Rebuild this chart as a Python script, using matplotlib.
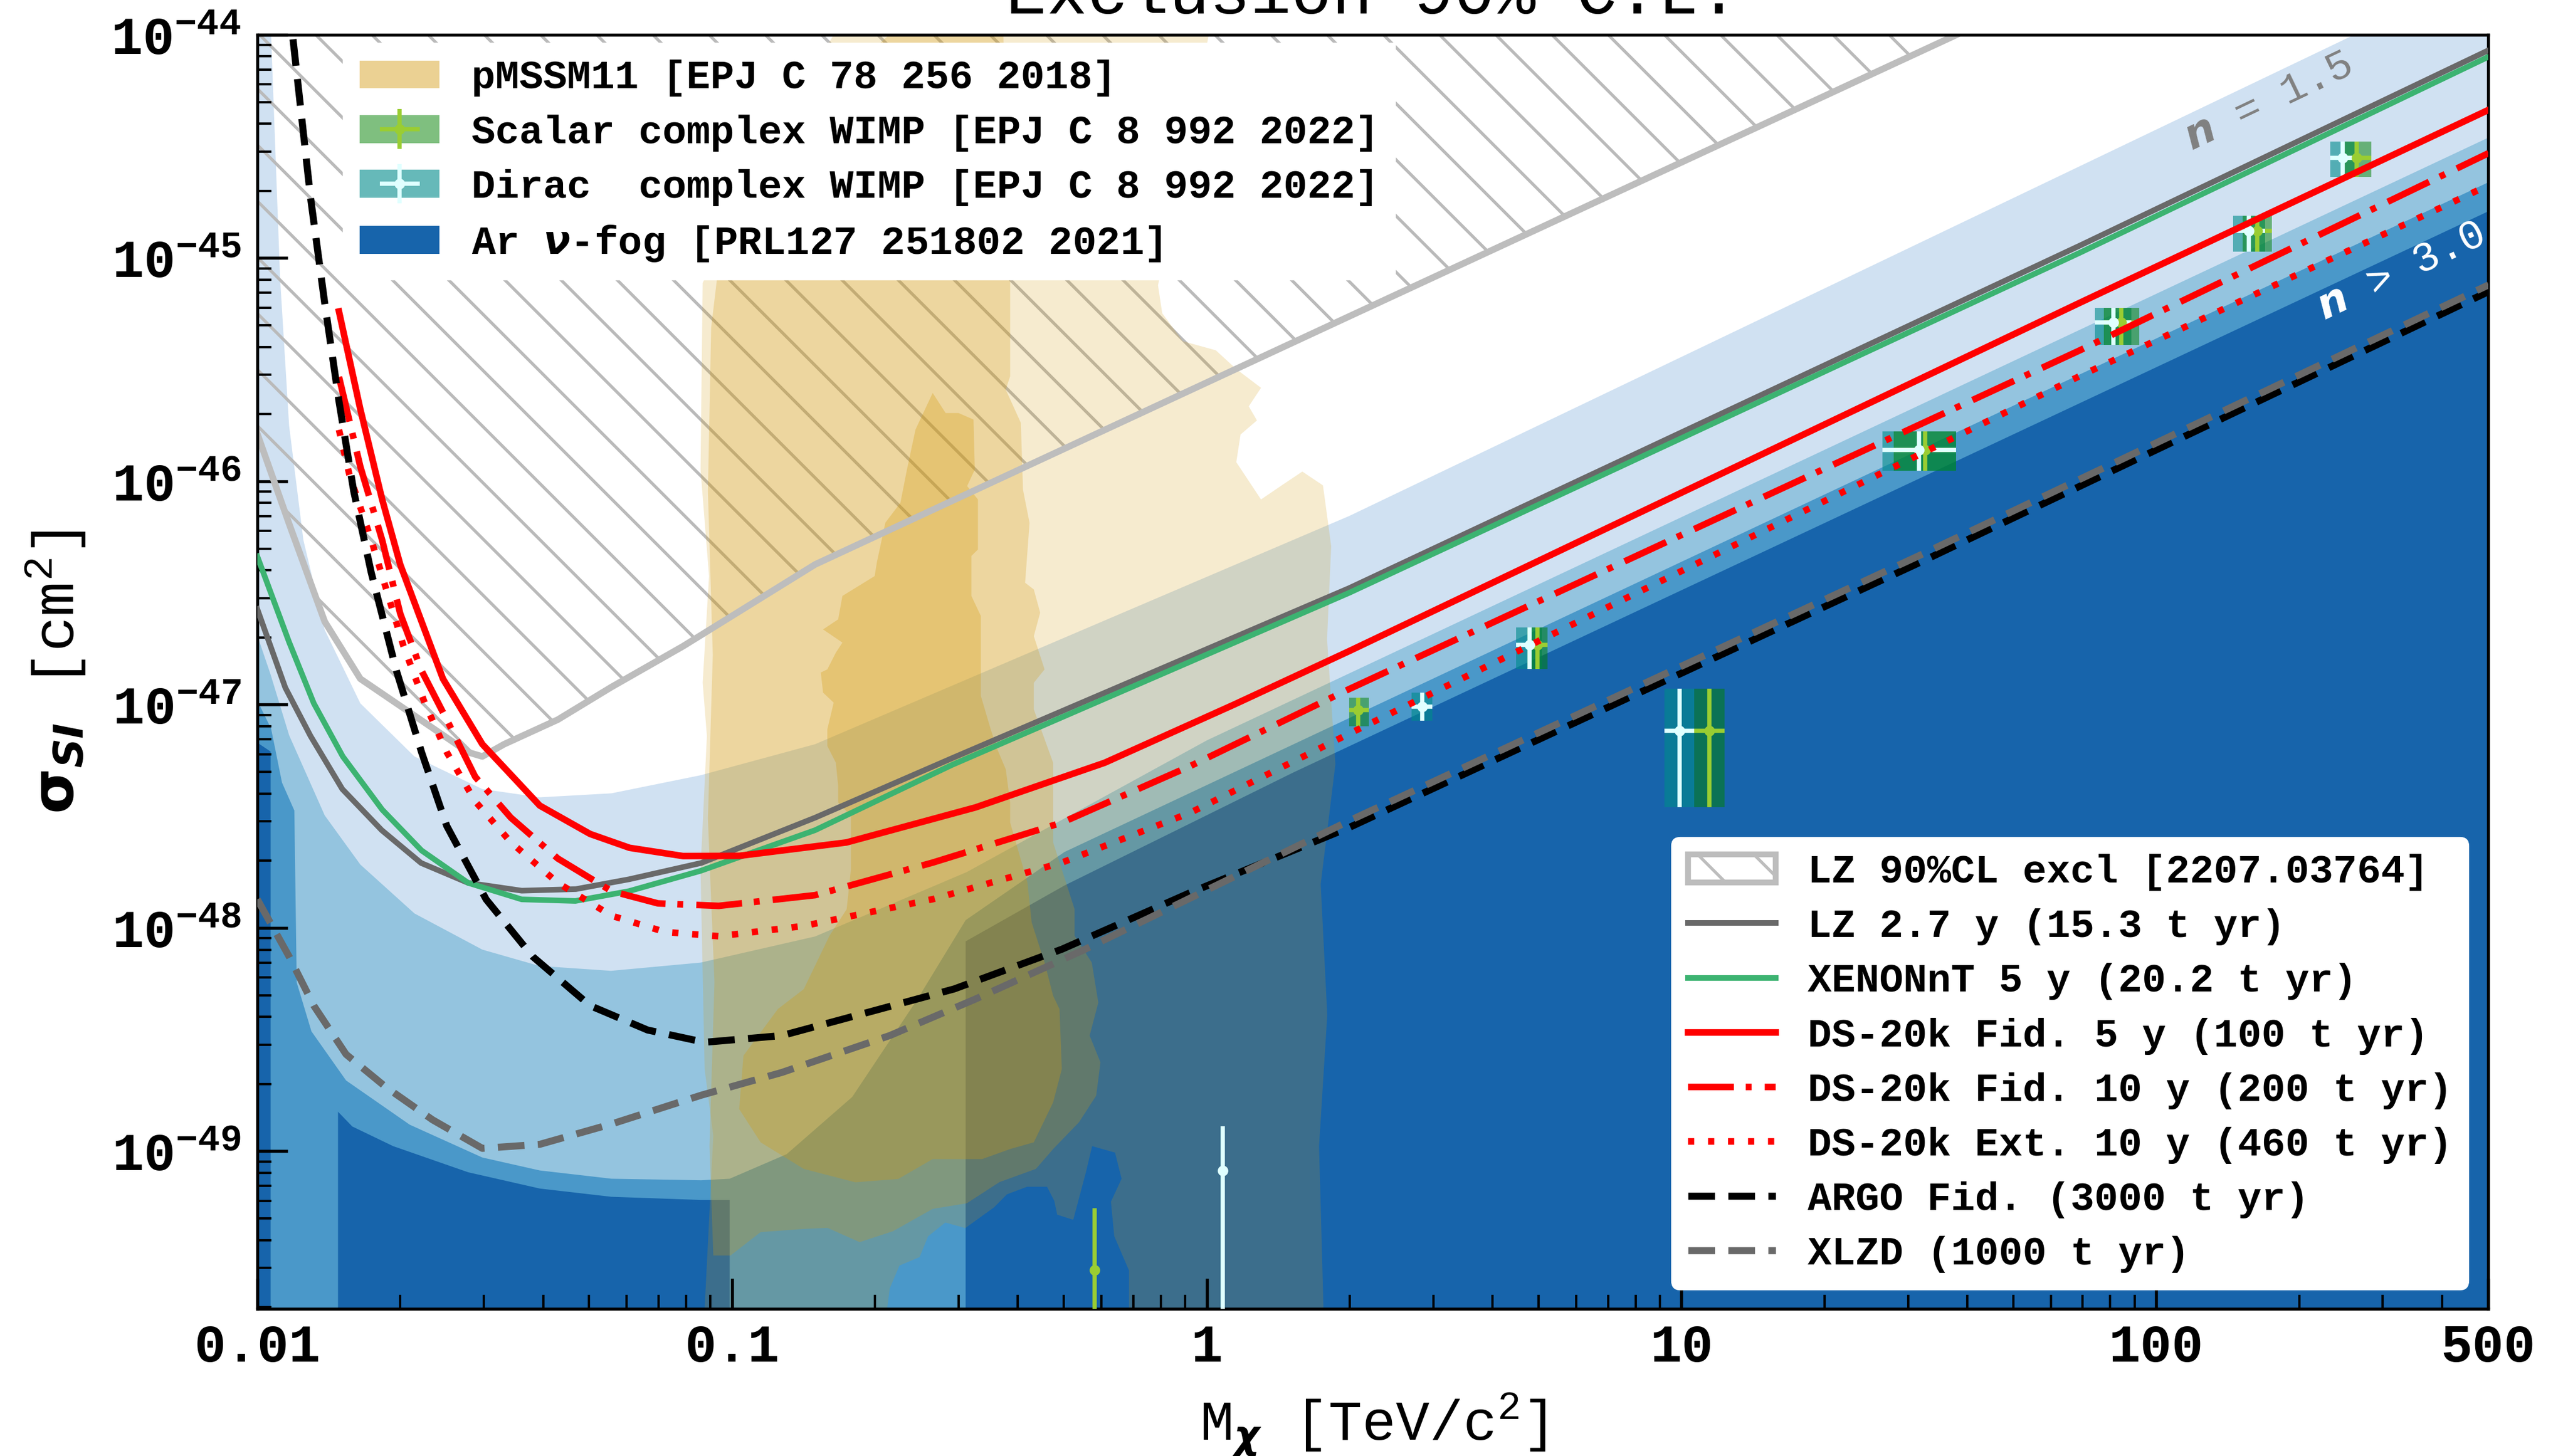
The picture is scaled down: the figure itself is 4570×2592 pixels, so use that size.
import numpy as np
import matplotlib
matplotlib.use("Agg")
import matplotlib.pyplot as plt
from matplotlib.patches import Patch
from matplotlib.legend_handler import HandlerTuple
from matplotlib.ticker import LogLocator

plt.rcParams["font.family"] = ["Liberation Mono", "DejaVu Sans"]
plt.rcParams["font.weight"] = "bold"
plt.rcParams["mathtext.default"] = "regular"
plt.rcParams["axes.unicode_minus"] = False
plt.rcParams["hatch.color"] = "#bababa"
plt.rcParams["hatch.linewidth"] = 1.3

# all curves are given as log10(M / TeV) and log10(sigma / cm^2)

# LZ 2.7 y
lz_lm = [-2.0, -1.941, -1.888, -1.821, -1.738, -1.655, -1.556, -1.443, -1.329, -1.217, -1.065, -0.825, -0.537, 0.300, 1.839, 2.701]
lz_ls = [-46.572, -46.924, -47.140, -47.378, -47.562, -47.709, -47.798, -47.833, -47.826, -47.782, -47.709, -47.506, -47.24, -46.478, -44.944, -44.068]

# XENONnT 5 y
xe_lm = [-2.0, -1.933, -1.881, -1.820, -1.737, -1.654, -1.556, -1.443, -1.330, -1.217, -1.066, -0.825, -0.537, 0.300, 1.839, 2.701]
xe_ls = [-46.336, -46.720, -46.994, -47.232, -47.470, -47.653, -47.798, -47.872, -47.879, -47.835, -47.744, -47.562, -47.27, -46.499, -44.976, -44.097]

# DS-20k Fid. 5 y
ds5_lm = [-1.828, -1.783, -1.737, -1.699, -1.654, -1.609, -1.526, -1.405, -1.299, -1.216, -1.103, -0.985, -0.759, -0.487, -0.215, 0.057, 0.300, 1.839, 2.700]
ds5_ls = [-45.239, -45.677, -46.081, -46.372, -46.628, -46.884, -47.177, -47.452, -47.579, -47.641, -47.678, -47.677, -47.617, -47.46, -47.26, -47.00, -46.76, -45.20, -44.336]

# DS-20k Fid. 10 y
ds10_lm = [-1.828, -1.783, -1.737, -1.699, -1.654, -1.601, -1.541, -1.466, -1.367, -1.254, -1.156, -1.028, -0.825, -0.577, -0.305, -0.034, 0.300, 1.839, 2.700]
ds10_ls = [-45.532, -45.934, -46.263, -46.592, -46.848, -47.067, -47.323, -47.506, -47.689, -47.835, -47.890, -47.901, -47.853, -47.707, -47.528, -47.274, -46.93, -45.413, -44.530]

# DS-20k Ext. 10 y
dsx_lm = [-1.828, -1.806, -1.760, -1.692, -1.647, -1.601, -1.541, -1.466, -1.367, -1.254, -1.141, -1.028, -0.849, -0.577, -0.305, -0.034, 0.300, 1.839, 2.700]
dsx_ls = [-45.769, -45.970, -46.262, -46.738, -46.994, -47.213, -47.433, -47.616, -47.798, -47.945, -48.018, -48.037, -47.991, -47.871, -47.707, -47.483, -47.13, -45.528, -44.674]

# ARGO Fid.
argo_lm = [-1.935, -1.926, -1.888, -1.858, -1.828, -1.797, -1.760, -1.707, -1.654, -1.601, -1.518, -1.420, -1.299, -1.178, -1.058, -0.895, -0.714, -0.532, -0.305, -0.034, 0.300, 1.506, 2.700]
argo_ls = [-43.8, -43.996, -44.727, -45.202, -45.641, -46.043, -46.409, -46.848, -47.213, -47.543, -47.872, -48.128, -48.348, -48.457, -48.512, -48.482, -48.378, -48.273, -48.095, -47.841, -47.55, -46.359, -45.150]

# XLZD
xlzd_lm = [-2.0, -1.933, -1.881, -1.813, -1.729, -1.631, -1.526, -1.405, -1.254, -1.065, -0.895, -0.668, -0.487, -0.261, 0.300, 1.506, 2.700]
xlzd_ls = [-47.872, -48.128, -48.348, -48.566, -48.713, -48.859, -48.987, -48.969, -48.878, -48.749, -48.647, -48.482, -48.318, -48.10, -47.52, -46.327, -45.120]

# LZ 90% CL exclusion
excl_lm = [-2.0, -1.933, -1.858, -1.783, -1.669, -1.556, -1.526, -1.480, -1.367, -1.254, -1.103, -0.825, 0.300, 1.569, 2.8]
excl_ls = [-45.787, -46.190, -46.628, -46.884, -47.049, -47.213, -47.232, -47.177, -47.067, -46.921, -46.738, -46.372, -45.261, -44.010, -42.79]

# Ar neutrino fog, boundaries of the four shading levels (-50.5 = below the frame)
fog1_lm = [-2.0, -1.971, -1.952, -1.933, -1.903, -1.858, -1.783, -1.669, -1.526, -1.405, -1.254, -1.066, -0.825, 0.300, 2.8]
fog1_ls = [-43.9, -44.0, -45.092, -45.751, -46.262, -46.665, -46.994, -47.232, -47.378, -47.415, -47.397, -47.316, -47.177, -46.155, -43.61]
fog2_lm = [-2.0, -1.972, -1.933, -1.858, -1.783, -1.669, -1.526, -1.406, -1.255, -1.066, -0.825, -0.506, 0.0, 2.8]
fog2_ls = [-46.69, -46.865, -47.137, -47.496, -47.716, -47.935, -48.097, -48.170, -48.192, -48.155, -48.038, -47.75, -47.16, -44.36]
fog3_lm = [-2.0, -1.971, -1.948, -1.922, -1.917, -1.886, -1.813, -1.679, -1.526, -1.405, -1.254, -1.065, -1.005, -0.885, -0.747, -0.609, -0.508, -0.3, 2.8]
fog3_ls = [-46.982, -47.107, -47.349, -47.474, -48.244, -48.463, -48.683, -48.881, -49.028, -49.086, -49.123, -49.130, -49.123, -49.013, -48.757, -48.317, -47.965, -47.66, -44.56]
fog4_lm = [-2.0, -1.972, -1.972, -1.830, -1.830, -1.800, -1.714, -1.556, -1.405, -1.254, -1.066, -1.005, -1.005, -0.508, -0.508, -0.3, 0.181, 2.8]
fog4_ls = [-47.17, -47.21, -50.5, -50.5, -48.823, -48.889, -48.977, -49.094, -49.167, -49.204, -49.218, -49.218, -50.5, -50.5, -48.06, -47.81, -47.305, -44.69]

# pMSSM11 contours (outer, middle, inner)
pm_out_lm = [-0.7645, 0.0121, -0.1028, -0.0939, -0.0507, 0.0190, 0.0621, 0.1142, 0.0884, 0.1056, 0.0711, 0.0621,
             0.1142, 0.1577, 0.2012, 0.2447, 0.2620, 0.2533, 0.2709, 0.2399, 0.2537, 0.2364, 0.2468,
             -0.1639, -0.1639, -0.1950, -0.2019, -0.1795, -0.1933, -0.2416, -0.2547, -0.2813, -0.3151, -0.3213,
             -0.3365, -0.3786, -0.4211, -0.4480, -0.5087, -0.5508, -0.5871, -0.6050, -0.6475, -0.6678, -0.6782,
             -1.0578, -1.0578, -1.0395, -1.0578, -1.0664, -1.0530, -1.0619, -1.0485, -1.0664, -1.0619, -0.9198]
pm_out_ls = [-43.918, -43.918, -45.122, -45.247, -45.372, -45.413, -45.497, -45.581, -45.664, -45.727, -45.790, -45.914,
             -46.081, -46.018, -45.956, -46.018, -46.290, -46.707, -47.266, -47.804, -48.390, -48.977, -49.783,
             -49.783, -49.534, -49.380, -49.226, -49.123, -49.006, -48.977, -49.094, -49.307, -49.284, -49.222,
             -49.159, -49.159, -49.193, -49.251, -49.344, -49.319, -49.381, -49.474, -49.512, -49.614, -49.783,
             -49.783, -49.706, -48.930, -48.632, -47.738, -47.140, -46.902, -46.424, -45.947, -45.111, -44.504]
pm_mid_lm = [-0.6264, -0.4297, -0.4142, -0.4142, -0.4235, -0.3917, -0.3872, -0.3734, -0.3827, -0.3644, -0.3510, -0.3644,
             -0.3417, -0.3644, -0.3644, -0.3237, -0.3237, -0.2785, -0.2785, -0.2423, -0.2285, -0.2468, -0.2240,
             -0.2330, -0.2692, -0.3237, -0.3600, -0.4366, -0.5056, -0.5774, -0.6609, -0.7313, -0.7990, -0.8490,
             -0.9398, -1.0033, -1.0395, -1.0475, -1.0371, -1.0509, -1.0406, -1.0509, -1.0440, -1.0233, -0.8162]
pm_mid_ls = [-43.918, -43.918, -45.111, -45.529, -45.589, -45.738, -46.037, -46.186, -46.454, -46.484, -46.588, -46.693,
             -46.842, -46.902, -47.021, -47.260, -47.617, -47.916, -48.035, -48.155, -48.334, -48.482, -48.602,
             -48.751, -48.870, -48.990, -49.079, -49.138, -49.233, -49.258, -49.358, -49.407, -49.343, -49.348,
             -49.362, -49.467, -49.467, -48.977, -48.243, -47.510, -46.777, -46.044, -45.311, -44.944, -44.284]
pm_in_lm = [-0.5774, -0.5501, -0.5229, -0.4915, -0.4887, -0.5049, -0.4821, -0.4821, -0.4959, -0.4959, -0.4759, -0.4759,
            -0.4552, -0.4414, -0.4235, -0.4142, -0.4142, -0.3779, -0.3689, -0.3417, -0.3237, -0.3103, -0.3054,
            -0.3237, -0.3644, -0.4142, -0.4732, -0.5774, -0.6499, -0.7403, -0.8490, -0.9398, -0.9850, -0.9760,
            -0.9035, -0.8490, -0.7948, -0.7586, -0.7496, -0.7496, -0.7765, -0.7765, -0.7814, -0.7993, -0.7993,
            -0.7859, -0.8083, -0.8131, -0.7993, -0.7814, -0.7675, -0.8083, -0.7765, -0.7675, -0.6996, -0.6951,
            -0.6771, -0.6454, -0.6316, -0.6136]
pm_in_ls = [-45.604, -45.694, -45.694, -45.723, -45.947, -46.021, -46.081, -46.305, -46.334, -46.513, -46.603, -46.961,
            -47.110, -47.199, -47.289, -47.438, -47.528, -47.796, -47.975, -48.155, -48.304, -48.363, -48.632,
            -48.781, -48.960, -48.990, -49.035, -49.035, -49.124, -49.139, -49.079, -48.960, -48.811, -48.572,
            -48.363, -48.274, -48.035, -47.916, -47.737, -47.498, -47.438, -47.364, -47.260, -47.185, -47.110,
            -46.991, -46.946, -46.856, -46.842, -46.767, -46.722, -46.663, -46.618, -46.513, -46.424, -46.364,
            -46.185, -46.096, -45.947, -45.768]

# complex WIMP predictions: centre, mass range, cross-section range
scalar_lm = [0.3185, 0.6965, 1.0586, 1.5134, 1.9262, 2.2126, 2.4218, -0.2368]
scalar_lm_lo = [0.2995, 0.6755, 1.0269, 1.4470, 1.8900, 2.1819, 2.3911, -0.2395]
scalar_lm_hi = [0.3419, 0.7182, 1.0904, 1.5786, 1.9640, 2.2433, 2.4525, -0.2340]
scalar_ls = [-47.024, -46.732, -47.116, -45.859, -45.288, -44.877, -44.552, -49.532]
scalar_ls_lo = [-47.097, -46.840, -47.460, -45.953, -45.389, -44.971, -44.636, -50.3]
scalar_ls_hi = [-46.968, -46.655, -46.928, -45.776, -45.223, -44.809, -44.479, -49.256]

dirac_lm = [0.4532, 0.6796, 0.9953, 1.5006, 1.9092, 2.1953, 2.3924, 0.0331]
dirac_lm_lo = [0.4311, 0.6516, 0.9637, 1.4233, 1.8700, 2.1612, 2.3669, 0.0290]
dirac_lm_hi = [0.4756, 0.7058, 1.0269, 1.5779, 1.9480, 2.2294, 2.4179, 0.0372]
dirac_ls = [-47.009, -46.732, -47.116, -45.859, -45.288, -44.877, -44.552, -49.088]
dirac_ls_lo = [-47.073, -46.840, -47.460, -45.953, -45.389, -44.971, -44.636, -50.3]
dirac_ls_hi = [-46.947, -46.655, -46.928, -45.776, -45.223, -44.809, -44.479, -48.887]

xtick_vals = [0.01, 0.1, 1, 10, 100, 500]
xtick_labels = ["0.01", "0.1", "1", "10", "100", "500"]
ytick_vals = [1e-49, 1e-48, 1e-47, 1e-46, 1e-45, 1e-44]


def p10(a):
    return 10.0 ** np.asarray(a, dtype=float)


fig = plt.figure(figsize=(4570 / 300, 2592 / 300), dpi=300)
ax = fig.add_axes([0.1002, 0.1011, 0.8687, 0.8750])
ax.set_xscale("log")
ax.set_yscale("log")

# neutrino fog
blues = plt.cm.Blues([0.2, 0.4, 0.6, 0.8])
ybot = 1e-51
for lm, ls, c in [(fog1_lm, fog1_ls, blues[0]), (fog2_lm, fog2_ls, blues[1]),
                  (fog3_lm, fog3_ls, blues[2]), (fog4_lm, fog4_ls, blues[3])]:
    x, y = p10(lm), p10(ls)
    ax.fill(np.r_[x, x[-1], x[0]], np.r_[y, ybot, ybot], color=c, lw=0, zorder=0.5)

# LZ exclusion (hatched)
xe, ye = p10(excl_lm), p10(excl_ls)
ax.fill_between(xe, ye, 1e-40, facecolor="none", edgecolor="#bababa", hatch="\\", lw=0, zorder=1)
ax.plot(xe, ye, color="#bdbdbd", lw=2.8, zorder=2)

# pMSSM11
for lm, ls, a in [(pm_out_lm, pm_out_ls, 0.2), (pm_mid_lm, pm_mid_ls, 0.25), (pm_in_lm, pm_in_ls, 0.3)]:
    ax.fill(p10(lm), p10(ls), color="#d39b10", alpha=a, lw=0, zorder=1.5)

# WIMP boxes and error bars
for i in range(len(dirac_lm)):
    ax.fill_between(p10([dirac_lm_lo[i], dirac_lm_hi[i]]), p10(dirac_ls_lo[i]), p10(dirac_ls_hi[i]),
                    color="darkcyan", alpha=0.6, lw=0, zorder=2.4)
for i in range(len(scalar_lm)):
    ax.fill_between(p10([scalar_lm_lo[i], scalar_lm_hi[i]]), p10(scalar_ls_lo[i]), p10(scalar_ls_hi[i]),
                    color="green", alpha=0.5, lw=0, zorder=2.45)


def errs(c, lo, hi):
    c, lo, hi = p10(c), p10(lo), p10(hi)
    return [c - lo, hi - c]


eb_dirac = ax.errorbar(p10(dirac_lm), p10(dirac_ls), xerr=errs(dirac_lm, dirac_lm_lo, dirac_lm_hi),
                       yerr=errs(dirac_ls, dirac_ls_lo, dirac_ls_hi), fmt="o", ms=3.5, color="lightcyan",
                       elinewidth=1.8, capsize=0, zorder=2.6)
eb_scalar = ax.errorbar(p10(scalar_lm), p10(scalar_ls), xerr=errs(scalar_lm, scalar_lm_lo, scalar_lm_hi),
                        yerr=errs(scalar_ls, scalar_ls_lo, scalar_ls_hi), fmt="o", ms=3.5, color="yellowgreen",
                        elinewidth=1.8, capsize=0, zorder=2.55)

# sensitivity curves
l_lz, = ax.plot(p10(lz_lm), p10(lz_ls), color="dimgray", lw=2.4, zorder=3)
l_xe, = ax.plot(p10(xe_lm), p10(xe_ls), color="mediumseagreen", lw=2.4, zorder=3)
l_ds5, = ax.plot(p10(ds5_lm), p10(ds5_ls), color="red", lw=2.8, zorder=3)
l_ds10, = ax.plot(p10(ds10_lm), p10(ds10_ls), color="red", lw=2.8, dashes=(7, 1.8, 0.9, 2), zorder=3)
l_dsx, = ax.plot(p10(dsx_lm), p10(dsx_ls), color="red", lw=2.8, dashes=(0.95, 2.1), zorder=3)
l_argo, = ax.plot(p10(argo_lm), p10(argo_ls), color="black", lw=3.0, dashes=(3.8, 1.9), zorder=3)
l_xlzd, = ax.plot(p10(xlzd_lm), p10(xlzd_ls), color="dimgray", lw=3.0, dashes=(3.8, 1.9), zorder=3.1)

ax.text(10 ** 2.236, 10 ** -44.30, r"$\mathit{n}$ = 1.5", color="gray", fontsize=18, fontweight="normal",
        rotation=25.5, rotation_mode="anchor", ha="center", va="center", zorder=4)
ax.text(10 ** 2.515, 10 ** -45.06, r"$\mathit{n}$ > 3.0", color="white", fontsize=18, fontweight="normal",
        rotation=25.5, rotation_mode="anchor", ha="center", va="center", zorder=4)

ax.set_xlim(0.01, 500)
ax.set_ylim(1.97e-50, 1e-44)
ax.set_xticks(xtick_vals)
ax.set_xticklabels(xtick_labels)
ax.set_yticks(ytick_vals)
ax.yaxis.set_minor_locator(LogLocator(base=10, subs=np.arange(2, 10)))

for s in ax.spines.values():
    s.set_linewidth(1.3)
ax.tick_params(which="major", direction="in", length=13, width=1.3, labelsize=22.5, top=False, right=False)
ax.tick_params(which="minor", direction="in", length=6, width=1.0, top=False, right=False)
ax.tick_params(axis="x", which="major", pad=6)
ax.tick_params(axis="y", which="major", pad=7)

ax.set_xlabel(r"M$_{\boldsymbol{\chi}}$ [TeV/c$^2$]", fontsize=24, labelpad=8)
ax.set_ylabel(r"$\mathbf{\sigma}_{\boldsymbol{SI}}$ [cm$^2$]", fontsize=25, labelpad=10)
ax.set_title("Exclusion 90% C.L.", fontsize=29, pad=9)

# legends
h_pm = Patch(facecolor="#d39b10", alpha=0.45, lw=0)
h_scalar = (Patch(facecolor="green", alpha=0.5, lw=0), eb_scalar)
h_dirac = (Patch(facecolor="darkcyan", alpha=0.6, lw=0), eb_dirac)
h_fog = Patch(facecolor=blues[3], lw=0)
leg1 = ax.legend([h_pm, h_scalar, h_dirac, h_fog],
                 ["pMSSM11 [EPJ C 78 256 2018]",
                  "Scalar complex WIMP [EPJ C 8 992 2022]",
                  "Dirac  complex WIMP [EPJ C 8 992 2022]",
                  r"Ar $\boldsymbol{\nu}$-fog [PRL127 251802 2021]"],
                 handler_map={tuple: HandlerTuple(ndivide=1)},
                 loc="upper left", bbox_to_anchor=(0.0388, 0.9929), borderaxespad=0,
                 fontsize=17, fancybox=False, framealpha=1, edgecolor="white",
                 labelspacing=0.44)
leg1.set_zorder(5)
ax.add_artist(leg1)

h_excl = Patch(facecolor="white", edgecolor="#bdbdbd", hatch="\\", lw=2.5)
leg2 = ax.legend([h_excl, l_lz, l_xe, l_ds5, l_ds10, l_dsx, l_argo, l_xlzd],
                 ["LZ 90%CL excl [2207.03764]",
                  "LZ 2.7 y (15.3 t yr)",
                  "XENONnT 5 y (20.2 t yr)",
                  "DS-20k Fid. 5 y (100 t yr)",
                  "DS-20k Fid. 10 y (200 t yr)",
                  "DS-20k Ext. 10 y (460 t yr)",
                  "ARGO Fid. (3000 t yr)",
                  "XLZD (1000 t yr)"],
                 loc="lower right", fontsize=17, fancybox=True, framealpha=1, edgecolor="white",
                 handlelength=2.2, labelspacing=0.44)
leg2.set_zorder(5)

fig.savefig("out.png", dpi=300)
